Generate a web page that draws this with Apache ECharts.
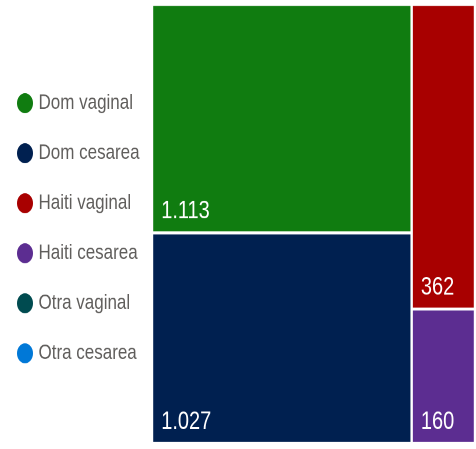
<!DOCTYPE html>
<html>
<head>
<meta charset="utf-8">
<script src="https://cdn.jsdelivr.net/npm/echarts@6/dist/echarts.min.js"></script>
<style>
  html, body { margin: 0; padding: 0; background: #fff; width: 476px; height: 449px; }
  /* la imagen original esta estirada en vertical */
  #main { width: 476px; height: 359px; transform: scaleY(1.2507); transform-origin: 0 0; }
</style>
</head>
<body>
<div id="main"></div>
<script>
// datos
let groups = ["Dom", "Haiti", "Otra"];
let vaginal = [1113, 362, 0];
let cesarea = [1027, 160, 0];
let legendNames = ["Dom vaginal", "Dom cesarea", "Haiti vaginal", "Haiti cesarea", "Otra vaginal", "Otra cesarea"];
let colors = ["#107c10", "#002050", "#a80000", "#5c2d91", "#004b50", "#0078d7"];

let chart = echarts.init(document.getElementById("main"), null, { devicePixelRatio: 2 });
let font = "'Liberation Sans', Arial, sans-serif";

function fmt(v) {
    return String(v).replace(/\B(?=(\d{3})+(?!\d))/g, ".");
}

let totals = groups.map((g, i) => vaginal[i] + cesarea[i]);
let grand = totals.reduce((a, b) => a + b, 0);

// una serie por categoria de la leyenda
let series = [];
let x0 = 0;
groups.forEach((g, i) => {
    let x1 = x0 + totals[i];
    let parts = [vaginal[i], cesarea[i]];
    let y0 = 0;
    parts.forEach((v, k) => {
        let y1 = totals[i] ? y0 + v / totals[i] : y0;
        series.push({
            name: legendNames[i * 2 + k],
            type: "custom",
            itemStyle: { color: colors[i * 2 + k] },
            encode: { x: [0, 1], y: [2, 3] },
            data: v > 0 ? [[x0, x1, y0, y1, v]] : [],
            renderItem: renderCell
        });
        y0 = y1;
    });
    x0 = x1;
});

function renderCell(params, api) {
    let v = api.value(4);
    if (!v) return;
    let p0 = api.coord([api.value(0), api.value(2)]);
    let p1 = api.coord([api.value(1), api.value(3)]);
    let g = 1.2;
    return {
        type: "rect",
        shape: { x: p0[0] + g, y: p0[1] + g, width: p1[0] - p0[0] - 2 * g, height: p1[1] - p0[1] - 2 * g },
        style: { fill: api.visual("color") },
        textContent: {
            style: { text: fmt(v), fill: "#fff", fontSize: 20, fontFamily: font }
        },
        textConfig: { position: "insideBottomLeft", distance: 6, offset: [2, 0] }
    };
}

let option = {
    animation: false,
    legend: {
        data: legendNames,
        orient: "vertical",
        left: 12,
        top: 69,
        itemWidth: 17,
        itemHeight: 16,
        itemGap: 23,
        icon: "circle",
        textStyle: { color: "#605e5c", fontSize: 17, fontFamily: font }
    },
    grid: { left: 152, right: 1, top: 3.6, bottom: 4.4 },
    xAxis: { type: "value", min: 0, max: grand, show: false },
    yAxis: { type: "value", min: 0, max: 1, inverse: true, show: false },
    series: series
};

chart.setOption(option);
</script>
</body>
</html>
